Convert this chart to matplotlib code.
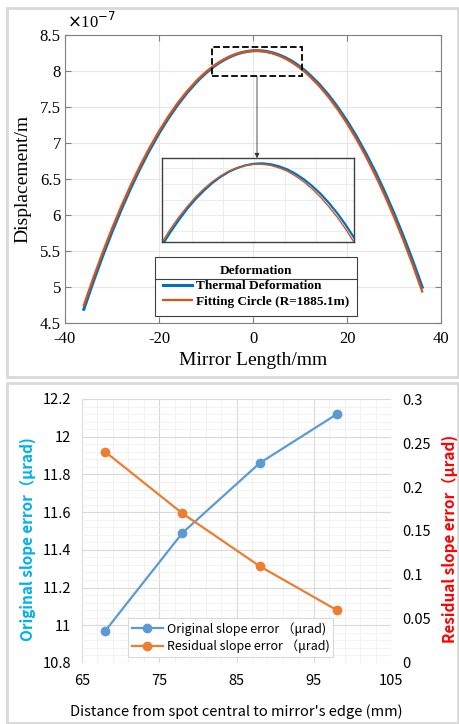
import matplotlib
matplotlib.use('Agg')
import matplotlib.pyplot as plt
from matplotlib.patches import Rectangle
from matplotlib.lines import Line2D
from matplotlib.ticker import MultipleLocator, FormatStrFormatter

plt.rcParams['axes.unicode_minus'] = False

# ---- top panel data (displacement in units of 1e-7 m) ----
mirror_x = [-36, -34, -32, -30, -28, -26, -24, -22, -20, -18, -16, -14, -12,
            -11, -10, -9, -8, -7, -6, -5, -4, -3, -2, -1, 0, 1, 2, 3, 4, 5,
            6, 7, 8, 9, 10, 11,
            12, 14, 16, 18, 20, 22, 24, 26, 28, 30, 32, 34, 36]
thermal = [4.691, 5.071, 5.429, 5.767, 6.083, 6.378, 6.652, 6.904, 7.136,
           7.346, 7.534, 7.702, 7.848,
           7.914, 7.974, 8.028, 8.078, 8.122, 8.160, 8.194, 8.222, 8.245,
           8.262, 8.274, 8.281, 8.283, 8.279, 8.270, 8.256, 8.236, 8.211,
           8.181, 8.146, 8.105, 8.059, 8.007,
           7.950, 7.821, 7.670, 7.498, 7.305, 7.091, 6.855, 6.599, 6.321,
           6.022, 5.701, 5.359, 4.997]
fit_circle = [4.746, 5.123, 5.478, 5.813, 6.126, 6.417, 6.688, 6.937, 7.165,
              7.372, 7.558, 7.722, 7.866,
              7.929, 7.988, 8.041, 8.088, 8.131, 8.168, 8.200, 8.226, 8.248,
              8.263, 8.274, 8.279, 8.279, 8.274, 8.263, 8.248, 8.226, 8.200,
              8.168, 8.131, 8.088, 8.041, 7.988,
              7.929, 7.797, 7.643, 7.468, 7.271, 7.054, 6.815, 6.555, 6.274,
              5.972, 5.648, 5.303, 4.937]

# ---- bottom panel data ----
distance = [68, 78, 88, 98]
original_err = [10.97, 11.49, 11.86, 12.12]
residual_err = [0.24, 0.17, 0.11, 0.06]

W, H = 459, 724
fig = plt.figure(figsize=(W / 100, H / 100), dpi=100)


def frac(x0, y0, x1, y1):
    # pixel box -> figure fraction [left, bottom, width, height]
    return [x0 / W, 1 - y1 / H, (x1 - x0) / W, (y1 - y0) / H]


# panel frames
for (x0, y0, x1, y1) in [(7, 8, 458, 377), (7, 383, 458, 723)]:
    l, b, w, h = frac(x0, y0, x1, y1)
    fig.patches.append(Rectangle((l, b), w, h, transform=fig.transFigure,
                                 facecolor='none', edgecolor='#d9d9d9',
                                 linewidth=2, zorder=-5))

serif = 'Liberation Serif'
blue_m = '#0072BD'
orange_m = '#D95319'

# ================= top panel =================
ax = fig.add_axes(frac(65, 35, 441, 323))
ax.plot(mirror_x, thermal, color=blue_m, lw=2.2, solid_joinstyle='round',
        label='Thermal Deformation')
ax.plot(mirror_x, fit_circle, color=orange_m, lw=1.6, solid_joinstyle='round',
        label='Fitting Circle (R=1885.1m)')
ax.set_xlim(-40, 40)
ax.set_ylim(4.5, 8.5)
ax.xaxis.set_major_locator(MultipleLocator(20))
ax.yaxis.set_major_locator(MultipleLocator(0.5))
ax.yaxis.set_major_formatter(FormatStrFormatter('%g'))
ax.grid(True, color='#e6e6e6', lw=0.8)
ax.set_axisbelow(True)
ax.tick_params(direction='in', length=4, color='#808080', top=True,
               right=True, labelsize=12, pad=3)
ax.tick_params(axis='x', pad=6)
for lab in ax.get_xticklabels() + ax.get_yticklabels():
    lab.set_fontfamily(serif)
for sp in ax.spines.values():
    sp.set_color('#808080')
    sp.set_linewidth(0.8)
ax.set_xlabel('Mirror Length/mm', fontsize=14, fontfamily=serif)
ax.set_ylabel('Displacement/m', fontsize=14, fontfamily=serif)
ax.xaxis.set_label_coords(0.5, -0.1)
ax.yaxis.set_label_coords(-0.09, 0.5)
ax.text(0.005, 1.01, r'$\times$10$^{-7}$', transform=ax.transAxes,
        fontsize=12, fontfamily=serif, va='bottom', ha='left')

# dashed zoom box and arrow
ax.add_patch(Rectangle((-8.7, 7.93), 19.1, 0.40, fill=False, ls='--',
                       lw=1.3, edgecolor='black', zorder=5))
ax.annotate('', xy=(0.85, 6.79), xytext=(0.85, 7.93),
            arrowprops=dict(arrowstyle='-|>', color='#333333', lw=0.6,
                            mutation_scale=7, shrinkA=0, shrinkB=0))

leg = ax.legend(loc='upper left', bbox_to_anchor=(155 / W, 1 - 257 / H),
                bbox_transform=fig.transFigure, borderaxespad=0,
                title='Deformation', fancybox=False, framealpha=1,
                edgecolor='#404040', prop={'family': serif, 'weight': 'bold',
                                           'size': 9.5},
                handlelength=2.2, handletextpad=0.3, borderpad=0.6,
                labelspacing=0.25)
leg.get_title().set_fontweight('bold')
leg.get_title().set_fontfamily(serif)
leg.get_title().set_fontsize(9.5)
leg.get_frame().set_linewidth(0.8)

# inset
axi = fig.add_axes(frac(162, 158, 354, 242))
axi.plot(mirror_x, thermal, color=blue_m, lw=1.6, solid_joinstyle='round')
axi.plot(mirror_x, fit_circle, color=orange_m, lw=1.0, solid_joinstyle='round')
axi.set_xlim(-11, 12)
axi.set_ylim(7.93, 8.307)
axi.xaxis.set_major_locator(MultipleLocator(3.7))
axi.yaxis.set_major_locator(MultipleLocator(0.07))
axi.tick_params(length=0, labelbottom=False, labelleft=False)
axi.grid(True, color='#ececec', lw=0.7)
for sp in axi.spines.values():
    sp.set_color('#404040')
    sp.set_linewidth(1.0)

# separator under the legend title
fig.canvas.draw()
inv = fig.transFigure.inverted()
bb = leg.get_window_extent().transformed(inv)
tb = leg.get_title().get_window_extent().transformed(inv)
e1 = leg.get_texts()[0].get_window_extent().transformed(inv)
ysep = 0.5 * (tb.y0 + e1.y1)
fig.add_artist(Line2D([bb.x0, bb.x1], [ysep, ysep], transform=fig.transFigure,
                      color='#404040', lw=0.8, zorder=10))

# ================= bottom panel =================
cjk = ['Noto Sans CJK SC', 'DejaVu Sans']
blue_x = '#5B9BD5'
orange_x = '#ED7D31'

ax2 = fig.add_axes(frac(82, 399, 391, 663))
ax3 = ax2.twinx()
ax2.plot(distance, original_err, '-o', color=blue_x, lw=1.6, ms=6,
         label='Original slope error （μrad)')
ax3.plot(distance, residual_err, '-o', color=orange_x, lw=1.6, ms=6,
         label='Residual slope error （μrad)')
ax2.set_xlim(65, 105)
ax2.set_ylim(10.8, 12.2)
ax3.set_ylim(0, 0.3)
ax2.xaxis.set_major_locator(MultipleLocator(10, offset=5))
ax2.xaxis.set_minor_locator(MultipleLocator(2, offset=1))
ax2.yaxis.set_major_locator(MultipleLocator(0.2))
ax2.yaxis.set_minor_locator(MultipleLocator(0.04))
ax2.yaxis.set_major_formatter(FormatStrFormatter('%g'))
ax3.yaxis.set_major_locator(MultipleLocator(0.05))
ax3.yaxis.set_major_formatter(FormatStrFormatter('%g'))
ax2.grid(True, which='major', color='#d9d9d9', lw=0.8)
ax2.grid(True, which='minor', color='#f0f0f0', lw=0.6)
ax2.set_axisbelow(True)
for a in (ax2, ax3):
    a.tick_params(which='both', length=0, labelsize=10.5, pad=8)
    for sp in a.spines.values():
        sp.set_visible(False)
    for lab in a.get_xticklabels() + a.get_yticklabels():
        lab.set_fontfamily(cjk)
ax2.set_xlabel("Distance from spot central to mirror's edge (mm)",
               fontsize=10.5, fontfamily=cjk)
ax2.set_ylabel('Original slope error（μrad)', fontsize=11, fontweight='bold',
               color='#00B0F0', fontfamily=cjk)
ax3.set_ylabel('Residual slope error（μrad)', fontsize=11, fontweight='bold',
               color='#FF0000', fontfamily=cjk)
ax2.xaxis.set_label_coords(0.5, -0.155)
ax2.yaxis.set_label_coords(-0.15, 0.47)
ax3.yaxis.set_label_coords(1.165, 0.47)

h1, l1 = ax2.get_legend_handles_labels()
h2, l2 = ax3.get_legend_handles_labels()
leg2 = ax3.legend(h1 + h2, l1 + l2, loc='lower left',
                  bbox_to_anchor=(128 / W, 1 - 657 / H),
                  bbox_transform=fig.transFigure, borderaxespad=0,
                  fancybox=False, framealpha=1, edgecolor='#d9d9d9',
                  prop={'family': cjk, 'size': 9, 'weight': 'medium'},
                  handlelength=2.5, handletextpad=0.3, borderpad=0.3,
                  labelspacing=0.3)
leg2.get_frame().set_linewidth(0.8)

fig.savefig('out.png', dpi=100)
